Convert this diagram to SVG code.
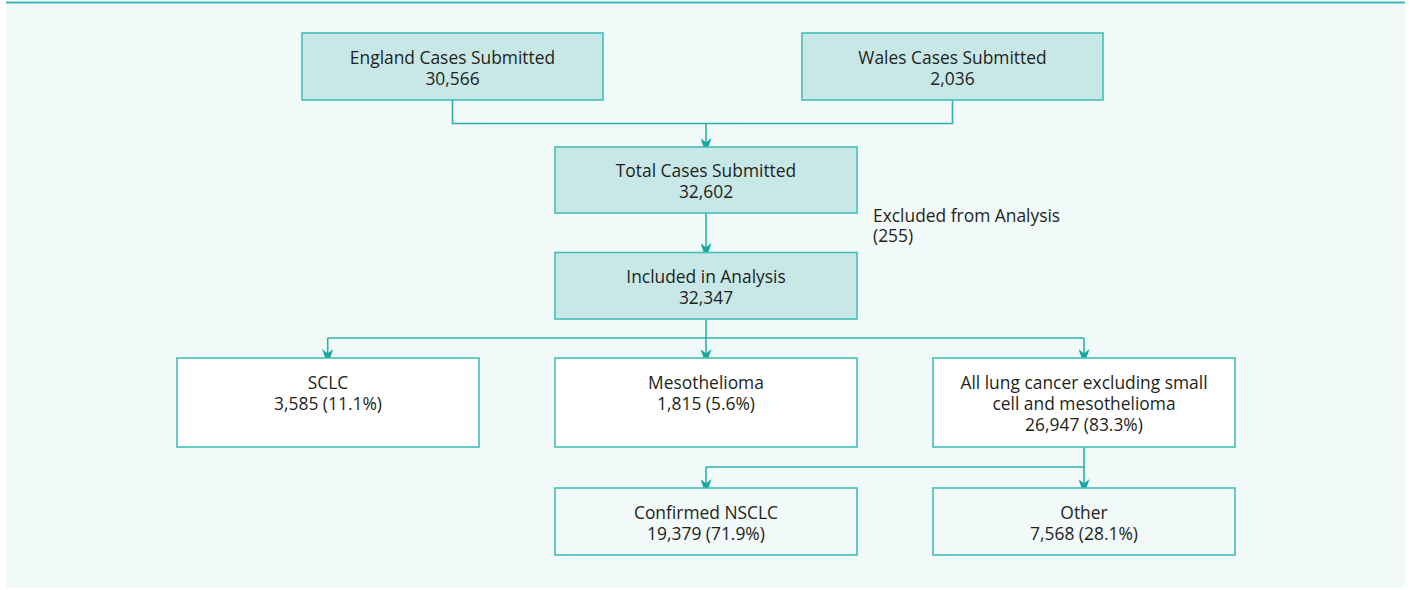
<svg xmlns="http://www.w3.org/2000/svg" width="1413" height="590" viewBox="0 0 1413 590">
<defs>
<style>
.panel{fill:#f1f9f9}
.box{stroke:#45bdb8;stroke-width:1.6}
.hi{fill:#c8e8e8}
.wh{fill:#ffffff}
.no{fill:#f1f9f9}
.t{font-family:"Open Sans","Noto Sans","Liberation Sans",sans-serif;font-size:17.4px;fill:#231f20;text-anchor:middle}
.tl{text-anchor:start}
.ln{fill:none;stroke:#2fb1ac;stroke-width:1.6}
</style>
<marker id="ah" viewBox="0 0 16 11" refX="16" refY="5.5" markerWidth="16" markerHeight="11" markerUnits="userSpaceOnUse" orient="auto">
<path d="M16,5.5 L0,0 L4.5,5.5 L0,11 Z" fill="#17a6a0"/>
</marker>
</defs>
<rect class="panel" x="6" y="3" width="1399" height="585"/>
<line x1="6" y1="2.5" x2="1405" y2="2.5" stroke="#3bb9b4" stroke-width="1.8"/>
<g id="connectors">
<path class="ln" d="M452.5,100 V123.5 H952.5 V100"/>
<path class="ln" d="M706,123.5 V154" marker-end="url(#ah)"/>
<path class="ln" d="M706,213 V259" marker-end="url(#ah)"/>
<path class="ln" d="M706,319 V338 M327.7,338 H1084"/>
<path class="ln" d="M327.7,338 V365" marker-end="url(#ah)"/>
<path class="ln" d="M706,338 V365" marker-end="url(#ah)"/>
<path class="ln" d="M1084,338 V365" marker-end="url(#ah)"/>
<path class="ln" d="M1084,447 V467 H706"/>
<path class="ln" d="M706,467 V495" marker-end="url(#ah)"/>
<path class="ln" d="M1084,467 V495" marker-end="url(#ah)"/>
</g>
<g id="england">
<rect class="box hi" x="302" y="33" width="301" height="67"/>
<text class="t" x="452.5" y="64">England Cases Submitted</text>
<text class="t" x="452.5" y="85">30,566</text>
</g>
<g id="wales">
<rect class="box hi" x="802" y="33" width="301" height="67"/>
<text class="t" x="952.5" y="64">Wales Cases Submitted</text>
<text class="t" x="952.5" y="85">2,036</text>
</g>
<g id="total">
<rect class="box hi" x="555" y="147" width="302" height="66"/>
<text class="t" x="706" y="177">Total Cases Submitted</text>
<text class="t" x="706" y="198">32,602</text>
</g>
<g id="excluded">
<text class="t tl" x="873" y="222">Excluded from Analysis</text>
<text class="t tl" x="873" y="242">(255)</text>
</g>
<g id="included">
<rect class="box hi" x="555" y="252.5" width="302" height="66.5"/>
<text class="t" x="706" y="283">Included in Analysis</text>
<text class="t" x="706" y="304">32,347</text>
</g>
<g id="sclc">
<rect class="box wh" x="177" y="358" width="302" height="89"/>
<text class="t" x="328" y="389">SCLC</text>
<text class="t" x="328" y="410">3,585 (11.1%)</text>
</g>
<g id="meso">
<rect class="box wh" x="555" y="358" width="302" height="89"/>
<text class="t" x="706" y="389">Mesothelioma</text>
<text class="t" x="706" y="410">1,815 (5.6%)</text>
</g>
<g id="alllung">
<rect class="box wh" x="933" y="358" width="302" height="89"/>
<text class="t" x="1084" y="389">All lung cancer excluding small</text>
<text class="t" x="1084" y="410">cell and mesothelioma</text>
<text class="t" x="1084" y="431">26,947 (83.3%)</text>
</g>
<g id="nsclc">
<rect class="box no" x="555" y="488" width="302" height="67"/>
<text class="t" x="706" y="519">Confirmed NSCLC</text>
<text class="t" x="706" y="540">19,379 (71.9%)</text>
</g>
<g id="other">
<rect class="box no" x="933" y="488" width="302" height="67"/>
<text class="t" x="1084" y="519">Other</text>
<text class="t" x="1084" y="540">7,568 (28.1%)</text>
</g>
</svg>
